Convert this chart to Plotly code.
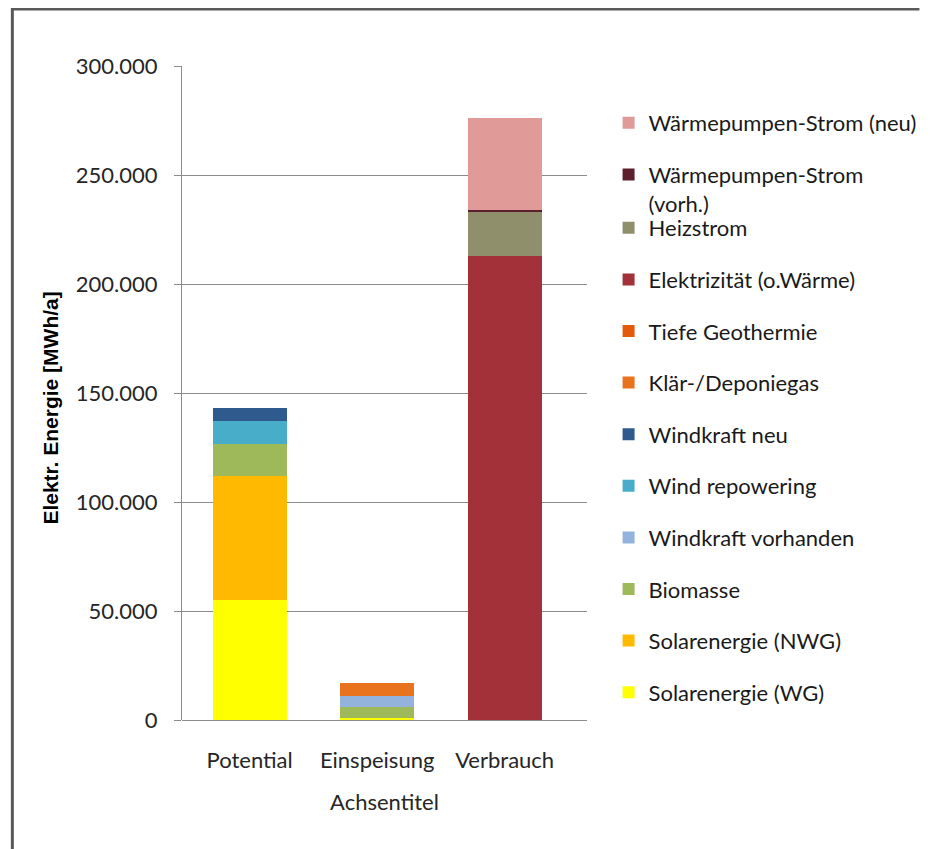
import plotly.graph_objects as go

categories = ["Potential", "Einspeisung", "Verbrauch"]

series_names = [
    "Solarenergie (WG)",
    "Solarenergie (NWG)",
    "Biomasse",
    "Windkraft vorhanden",
    "Wind repowering",
    "Windkraft neu",
    "Klär-/Deponiegas",
    "Tiefe Geothermie",
    "Elektrizität (o.Wärme)",
    "Heizstrom",
    "Wärmepumpen-Strom<br>(vorh.)",
    "Wärmepumpen-Strom (neu)",
]

solar_wg = [55000, 1000, 0]
solar_nwg = [57000, 0, 0]
biomasse = [14500, 5000, 0]
wind_vorhanden = [0, 5000, 0]
wind_repowering = [10500, 0, 0]
wind_neu = [6000, 0, 0]
klaer_deponiegas = [0, 6000, 0]
tiefe_geothermie = [0, 0, 0]
elektrizitaet = [0, 0, 213000]
heizstrom = [0, 0, 20000]
wp_vorh = [0, 0, 1000]
wp_neu = [0, 0, 42000]

series_values = [solar_wg, solar_nwg, biomasse, wind_vorhanden, wind_repowering,
                 wind_neu, klaer_deponiegas, tiefe_geothermie, elektrizitaet,
                 heizstrom, wp_vorh, wp_neu]

colors = ["#FFFF00", "#FFBA00", "#9DB95A", "#93B3DC", "#47ADC8", "#2F5A8E",
          "#E8731C", "#E35A0C", "#A3313A", "#8F8F6B", "#5C1F2E", "#E09A98"]

tick_vals = [0, 50000, 100000, 150000, 200000, 250000, 300000]
tick_text = ["0", "50.000", "100.000", "150.000", "200.000", "250.000", "300.000"]

FONT = "Lato, 'Open Sans', sans-serif"
FS = 22

# the page body adds an 8px offset; work in reference pixel coords minus it
OFF = 8
FIG_W, FIG_H = 934 - OFF, 849 - OFF
L, R, T, B = 182 - OFF, 595 - OFF, 66 - OFF, 720 - OFF
W, H = R - L, B - T


def px(xr):
    return (xr - OFF - L) / W


def py(yr):
    return (B - (yr - OFF)) / H


fig = go.Figure()
n = len(series_names)
for i, (name, vals, col) in enumerate(zip(series_names, series_values, colors)):
    fig.add_trace(go.Bar(
        x=categories, y=vals, name=name,
        marker=dict(color=col, line=dict(width=0)),
        width=0.58,
        legendgroup=f"g{i}",
        legendrank=n - i,
        legend="legend" if i >= 10 else "legend2",
    ))

legend_common = dict(
    xanchor="left", yanchor="top",
    traceorder="grouped", tracegroupgap=20, valign="top",
    font=dict(family=FONT, size=FS, color="#1a1a1a"),
    bgcolor="rgba(0,0,0,0)", itemclick=False,
)

fig.update_layout(
    width=FIG_W, height=FIG_H,
    margin=dict(l=L, r=FIG_W - R, t=T, b=FIG_H - B),
    barmode="stack",
    paper_bgcolor="white",
    plot_bgcolor="white",
    font=dict(family=FONT, size=FS, color="#262626"),
    showlegend=True,
    legend=dict(x=px(617), y=py(102), **legend_common),
    legend2=dict(x=px(617), y=py(207), **legend_common),
    xaxis=dict(
        range=[(182 - 251) / 130, (595 - 251) / 130],
        showgrid=False, zeroline=False,
        showline=False, ticks="",
        tickfont=dict(family=FONT, size=FS, color="#262626"),
        ticklabelstandoff=25,
        title=dict(text="Achsentitel", standoff=22,
                   font=dict(family=FONT, size=FS, color="#262626")),
    ),
    yaxis=dict(
        range=[0, 300000],
        tickvals=tick_vals, ticktext=tick_text,
        showgrid=True, gridcolor="#8C8C8C", gridwidth=1,
        zeroline=True, zerolinecolor="#8C8C8C", zerolinewidth=1,
        showline=True, linecolor="#8C8C8C", linewidth=1,
        ticks="outside", ticklen=7, tickcolor="#8C8C8C",
        ticklabelstandoff=12,
        tickfont=dict(family=FONT, size=FS, color="#262626"),
    ),
    annotations=[dict(
        text="<b>Elektr. Energie [MWh/a]</b>",
        x=px(47), y=py(408), xref="paper", yref="paper",
        xanchor="center", yanchor="middle",
        textangle=-90, showarrow=False,
        font=dict(family="Liberation Sans, Arial, sans-serif", size=21, color="#000000"),
    )],
    shapes=[
        dict(type="line", xref="paper", yref="paper",
             x0=px(9), x1=px(9), y0=py(8), y1=py(849),
             line=dict(color="#595959", width=3)),
        dict(type="line", xref="paper", yref="paper",
             x0=px(8), x1=px(934), y0=py(9), y1=py(9),
             line=dict(color="#595959", width=3)),
    ],
)

fig.write_html("out.html")
